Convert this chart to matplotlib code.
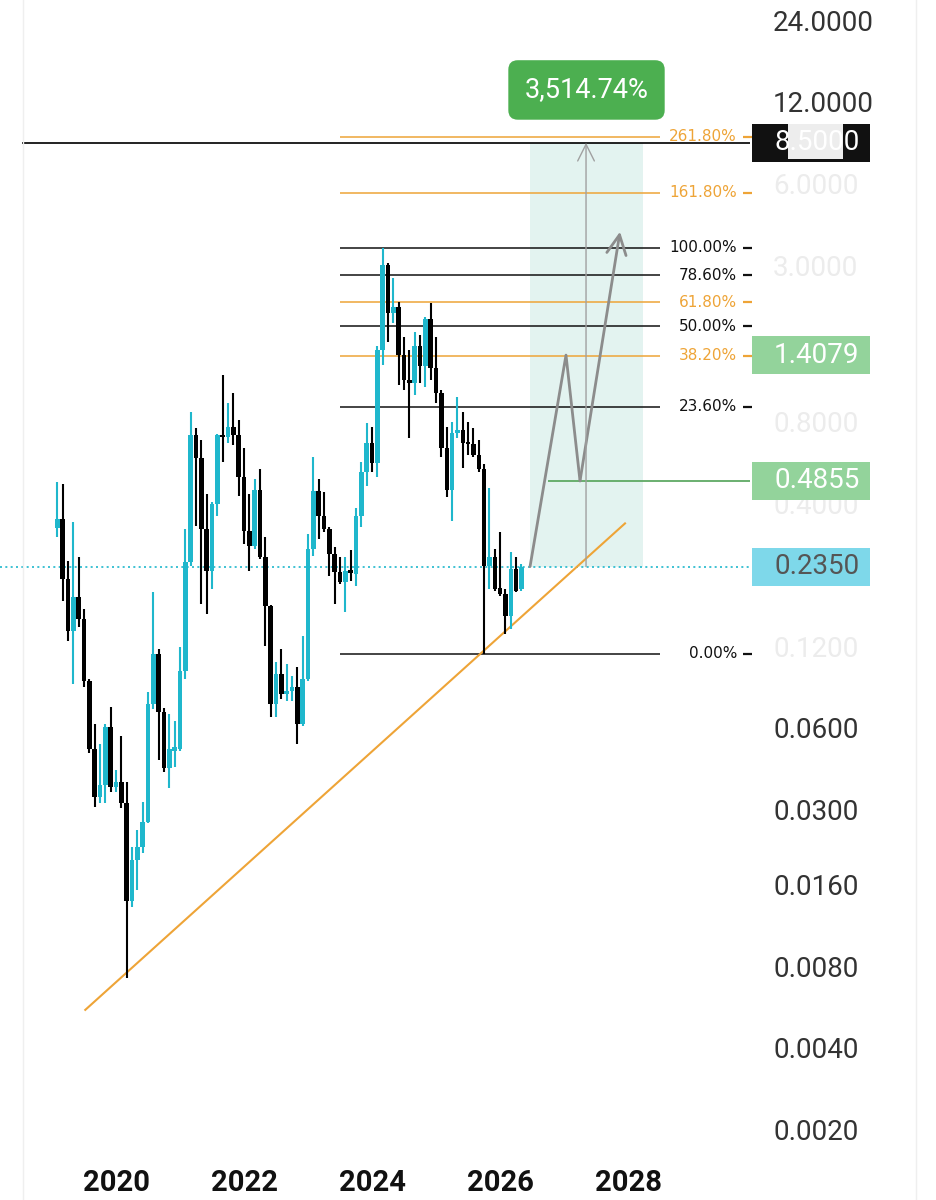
import numpy as np
import pandas as pd
import matplotlib
matplotlib.use("Agg")
import matplotlib.pyplot as plt
from matplotlib.patches import Rectangle
from matplotlib.lines import Line2D
from matplotlib.transforms import blended_transform_factory
from matplotlib.ticker import NullLocator

# ---------------- data (monthly candles) ----------------
start_month = "2019-02-01"
opens = [0.3247, 0.3504, 0.211, 0.136, 0.1813, 0.1505, 0.0891, 0.0501, 0.0334, 0.0370,
         0.0604, 0.0364, 0.0380, 0.0318, 0.01387, 0.01962, 0.0219, 0.02706, 0.07335, 0.1119,
         0.06855, 0.0427, 0.0495, 0.0501, 0.0969, 0.2436, 0.7189, 0.5918, 0.322, 0.2257,
         0.3976, 0.7189, 0.7068, 0.7688, 0.7189, 0.4997, 0.3166, 0.2789, 0.4514, 0.2541,
         0.168, 0.0734, 0.0945, 0.0798, 0.0819, 0.0847, 0.0619, 0.0906, 0.2719, 0.4439,
         0.3594, 0.322, 0.2606, 0.2238, 0.2056, 0.2276, 0.22, 0.3594, 0.5257, 0.6719,
         0.5673, 1.4748, 3.03, 2.015, 2.121, 1.4136, 1.144, 1.1156, 1.518, 1.288,
         1.916, 1.266, 1.025, 0.644, 0.4514, 0.7312, 0.75, 0.672, 0.665, 0.607,
         0.5347, 0.2355, 0.2541, 0.1955, 0.1859, 0.1543, 0.2296, 0.1938]
highs = [0.483, 0.471, 0.2456, 0.3417, 0.254, 0.1638, 0.0905, 0.0619, 0.0523, 0.0619,
         0.0715, 0.042, 0.056, 0.0380, 0.0219, 0.02529, 0.03205, 0.0812, 0.1891, 0.1167,
         0.0710, 0.0674, 0.0635, 0.1187, 0.322, 0.8729, 0.7623, 0.6891, 0.4328, 0.4078,
         0.72, 1.1936, 0.9419, 1.025, 0.8156, 0.644, 0.4328, 0.4913, 0.5347, 0.301,
         0.170, 0.1046, 0.1167, 0.1028, 0.0929, 0.1002, 0.1303, 0.3087, 0.5968, 0.4913,
         0.4437, 0.3275, 0.2765, 0.2541, 0.2541, 0.2696, 0.3876, 0.5721, 0.7952, 0.7688,
         1.518, 3.4875, 3.08, 2.71, 2.212, 1.645, 1.4748, 1.716, 1.673, 1.9485,
         2.194, 1.645, 1.051, 0.7688, 0.8019, 0.991, 0.8729, 0.8019, 0.7623, 0.6891,
         0.5578, 0.4591, 0.2719, 0.314, 0.1938, 0.2651, 0.2541, 0.240]
lows = [0.301, 0.1752, 0.1249, 0.0869, 0.1406, 0.0847, 0.0485, 0.0307, 0.0318, 0.0318,
        0.0349, 0.0349, 0.0305, 0.00724, 0.01318, 0.01522, 0.02082, 0.02683, 0.0703, 0.0457,
        0.0415, 0.0361, 0.0431, 0.0493, 0.0906, 0.2355, 0.3303, 0.1708, 0.157, 0.1938,
        0.3594, 0.5721, 0.6719, 0.6606, 0.4255, 0.2837, 0.2257, 0.2719, 0.2498, 0.1197,
        0.0657, 0.0657, 0.0765, 0.0752, 0.0752, 0.0523, 0.0609, 0.0891, 0.2562, 0.2959,
        0.314, 0.2164, 0.1708, 0.2022, 0.1597, 0.2074, 0.1988, 0.3275, 0.4631, 0.5213,
        0.5039, 1.299, 1.577, 1.852, 1.097, 1.051, 0.7009, 1.0077, 1.1156, 1.0785,
        1.144, 0.9419, 0.5968, 0.4219, 0.3446, 0.70, 0.5438, 0.607, 0.5968, 0.5257,
        0.1125, 0.1938, 0.191, 0.1828, 0.1325, 0.1383, 0.189, 0.191]
closes = [0.3504, 0.211, 0.136, 0.1813, 0.1505, 0.0891, 0.0501, 0.0334, 0.0370, 0.0604,
          0.0364, 0.0380, 0.0318, 0.01387, 0.01962, 0.0219, 0.02706, 0.07335, 0.1119, 0.06855,
          0.0427, 0.0501, 0.0510, 0.0969, 0.2436, 0.7189, 0.5918, 0.322, 0.2257, 0.3976,
          0.7189, 0.7068, 0.7688, 0.7189, 0.4997, 0.3166, 0.2789, 0.4514, 0.2541, 0.168,
          0.0734, 0.0945, 0.0798, 0.0819, 0.0847, 0.0619, 0.0906, 0.2719, 0.4439, 0.3594,
          0.322, 0.2606, 0.2238, 0.2056, 0.2257, 0.2219, 0.3594, 0.5257, 0.6719, 0.5673,
          1.4748, 3.023, 2.015, 2.121, 1.4136, 1.144, 1.1156, 1.518, 1.288, 1.916,
          1.266, 1.025, 0.644, 0.4514, 0.7312, 0.75, 0.6719, 0.665, 0.607, 0.5347,
          0.2355, 0.2541, 0.1938, 0.1859, 0.1543, 0.2296, 0.191, 0.235]

current_price = 0.235
fib_low, fib_high = 0.1125, 3.4875
fib_levels = [2.618, 1.618, 1.0, 0.786, 0.618, 0.5, 0.382, 0.236, 0.0]
fib_orange = [True, True, False, False, True, False, True, False, False]
fib_x = [2023.5, 2028.5]

entry_price = 0.235
target_price = 8.4946
gain_label = "3,514.74%"
box_x = [2026.469, 2028.234]
arrow_x = 2027.344
zig_x = [2026.469, 2027.031, 2027.25, 2027.875]
zig_y = [0.235, 1.4079, 0.4855, 4.0]
green_level = 0.4855
green_x0 = 2026.75
target_x0 = 2018.53
trend_x = [2019.52, 2027.953]
trend_y = [0.00552, 0.3388]

price_ticks = [24, 12, 6, 3, 0.8, 0.4, 0.12, 0.06, 0.03, 0.016, 0.008, 0.004, 0.002]
hidden_ticks = [6, 3, 0.8, 0.4, 0.12]
year_ticks = [2020, 2022, 2024, 2026, 2028]

tags = [(target_price, "8.5000", "#111111", "white"),
        (1.4079, "1.4079", "#93d39b", "white"),
        (0.4855, "0.4855", "#93d39b", "white"),
        (0.2350, "0.2350", "#7ed8ea", "#555555")]

# ---------------- styling ----------------
CYAN = "#1fb7cc"
BLACK = "#000000"
ORANGE = "#eea437"
GRAY = "#8c8c8c"

months = pd.date_range(start_month, periods=len(opens), freq="MS")
x = np.asarray(months.year + (months.month - 1) / 12.0, dtype=float)
o = np.array(opens); h = np.array(highs); l = np.array(lows); c = np.array(closes)

fig = plt.figure(figsize=(9.36, 12), dpi=100)
ax = fig.add_axes([0, 50 / 1200, 750 / 936, 1150 / 1200])
ax.set_yscale("log")
ax.set_xlim(2018.1875, 2029.906)
ax.set_ylim(0.001686, 28.43)
for s in ax.spines.values():
    s.set_visible(False)

# position box
ax.add_patch(Rectangle((box_x[0], entry_price), box_x[1] - box_x[0], target_price - entry_price,
                       facecolor="#e3f3f0", edgecolor="none", zorder=0.5))

# candles
up = c >= o
cols = np.where(up, CYAN, BLACK)
ax.vlines(x, l, h, colors=cols, lw=1.5, zorder=3)
bot = np.minimum(o, c)
top = np.maximum(np.maximum(o, c), bot * 1.015)
ax.bar(x, top - bot, bottom=bot, width=0.068, color=cols, zorder=4, linewidth=0)

# current price dotted line
ax.axhline(current_price, color=CYAN, lw=1.2, ls=(0, (1.2, 2.0)), zorder=2)

# target line
ax.hlines(target_price, target_x0, 2029.906, color="#111111", lw=1.3, zorder=2)

# fib levels
trans_mix = blended_transform_factory(ax.transAxes, ax.transData)
for lvl, is_or in zip(fib_levels, fib_orange):
    p = fib_low + lvl * (fib_high - fib_low)
    col = ORANGE if is_or else "#111111"
    ax.hlines(p, fib_x[0], fib_x[1], color=col, lw=1.1, zorder=2)
    ax.text(2029.703, p, f"{lvl * 100:.2f}%", ha="right", va="center", fontsize=11,
            color=col, family="DejaVu Sans", clip_on=False, zorder=5)
    dash = ax.hlines(p, 2029.80, 2029.94, color=col, lw=1.6, zorder=5)
    dash.set_clip_on(False)

# trendline
ax.plot(trend_x, trend_y, color=ORANGE, lw=1.5, zorder=2)

# projection arrows
ax.plot(zig_x[:-1], zig_y[:-1], color=GRAY, lw=2, zorder=3, solid_capstyle="round")
ax.annotate("", xy=(zig_x[-1], zig_y[-1]), xytext=(zig_x[-2], zig_y[-2]),
            arrowprops=dict(arrowstyle="->,head_length=0.7,head_width=0.35", color=GRAY, lw=2,
                            shrinkA=0, shrinkB=0, mutation_scale=20), zorder=3)
ax.annotate("", xy=(arrow_x, target_price), xytext=(arrow_x, entry_price),
            arrowprops=dict(arrowstyle="->,head_length=0.6,head_width=0.3", color="#a0a0a0", lw=1,
                            shrinkA=0, shrinkB=0, mutation_scale=20), zorder=3)

# green level line
ax.hlines(green_level, green_x0, 2029.906, color="#5fa964", lw=1.3, zorder=2)

# gain label
ax.annotate(gain_label, xy=((box_x[0] + box_x[1]) / 2, target_price), xytext=(0, 38),
            textcoords="offset points", ha="center", va="center", color="white",
            fontsize=19.5, family="Roboto",
            bbox=dict(boxstyle="round,pad=0.6,rounding_size=0.35", fc="#4caf50", ec="none"),
            zorder=6)

# axes ticks
ax.yaxis.tick_right()
ax.set_yticks(price_ticks)
ax.set_yticklabels([f"{v:.4f}" for v in price_ticks])
ax.yaxis.set_minor_locator(NullLocator())
ax.tick_params(axis="y", length=0, pad=16.6, labelsize=20, labelcolor="#333333")
for lbl, v in zip(ax.get_yticklabels(), price_ticks):
    lbl.set_family("Roboto")
    if v in hidden_ticks:
        lbl.set_color("#ececec")

ax.set_xticks(year_ticks)
ax.set_xticklabels([str(y) for y in year_ticks])
ax.tick_params(axis="x", length=0, pad=14, labelsize=21, labelcolor="#111111")
for lbl in ax.get_xticklabels():
    lbl.set_family("Roboto")
    lbl.set_fontweight("bold")

# price tags on the scale
r = 2 ** (19 / 81.9)
for p, txt, fc, tc in tags:
    ax.add_patch(Rectangle((752 / 750, p / r), 118 / 750, p * r - p / r, transform=trans_mix,
                           facecolor=fc, edgecolor="none", clip_on=False, zorder=6))
    ax.text(774 / 750, p, txt, transform=trans_mix, ha="left", va="center", fontsize=20,
            family="Roboto", color=tc, clip_on=False, zorder=7)
# partial white blot over black tag (as in reference)
ax.add_patch(Rectangle((788 / 750, target_price / 1.15), 55 / 750,
                       target_price * 1.17 - target_price / 1.15, transform=trans_mix,
                       facecolor="white", edgecolor="none", alpha=0.93, clip_on=False, zorder=8))

# faint frame lines
fig.add_artist(Line2D([23 / 936, 23 / 936], [0, 1], color="#efefef", lw=1))
fig.add_artist(Line2D([916 / 936, 916 / 936], [0, 1], color="#efefef", lw=1))

fig.savefig("out.png", dpi=100)
